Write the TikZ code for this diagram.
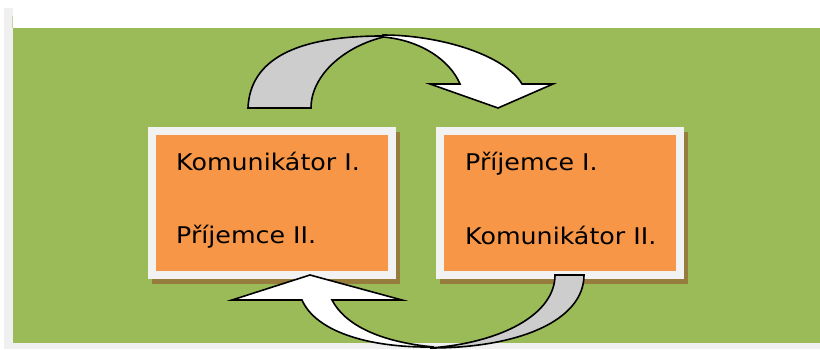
\documentclass[tikz,border=0pt]{standalone}
\usepackage{fontspec}
\newfontfamily\panelfont{DejaVu Sans}[FakeStretch=1.1]
\definecolor{bggreen}{RGB}{155,187,89}
\definecolor{panelorange}{RGB}{247,150,70}
\definecolor{framegray}{RGB}{242,242,242}
\definecolor{stripgray}{RGB}{240,240,240}
\definecolor{shadowbrown}{RGB}{150,125,62}
\definecolor{arrowgray}{RGB}{205,205,205}
\tikzset{
  panel/.style={rectangle,fill=panelorange,draw=framegray,line width=8pt,minimum width=240pt,minimum height=144pt,inner sep=0pt,
    preaction={draw=shadowbrown,fill=shadowbrown,transform canvas={xshift=4pt,yshift=-5pt}}},
  txt/.style={anchor=base west,inner sep=0pt,font=\panelfont\fontsize{23}{28}\selectfont},
  backpart/.style={fill=arrowgray,draw=black,line width=1.6pt,line join=miter},
  frontpart/.style={fill=white,draw=black,line width=1.6pt,line join=miter}
}

\begin{document}
\begin{tikzpicture}[x=1pt,y=-1pt]
  \useasboundingbox (0,0) rectangle (820,349);
  % Page and background
  \fill[white] (0,0) rectangle (820,349);
  \fill[stripgray] (4,8) rectangle (12.5,349);
  \fill[stripgray] (12.5,343) rectangle (820,349);
  \draw[bggreen!60!white, line width=0.8pt] (12.3,16) -- (12.3,28);
  \fill[bggreen] (12.5,28) rectangle (820,343);

  % Panels
  \node[panel] (boxL) at (272,203) {};
  \node[panel] (boxR) at (560,203) {};
  \node[txt] (komL) at (176,170) {Komunikátor I.};
  \node[txt] (priL) at (176,243) {Příjemce II.};
  \node[txt] (priR) at (465,170) {Příjemce I.};
  \node[txt] (komR) at (465,244) {Komunikátor II.};

  % Upper arrow
  \draw[backpart] (248,108) .. controls (250,60) and (295,35) .. (388,36)
    .. controls (345,45) and (311,75) .. (311,108) -- cycle;
  \draw[frontpart] (383,35) .. controls (440,35) and (505,55) .. (522,84) -- (553,84) -- (498,108)
    -- (430,84) -- (460,84) .. controls (450,60) and (420,40) .. (383,37) -- cycle;

  % Lower arrow
  \draw[backpart] (555,275) -- (584,275) .. controls (584,320) and (520,348) .. (430,348)
    .. controls (500,343) and (555,315) .. (555,275) -- cycle;
  \draw[frontpart] (302,300) .. controls (315,330) and (365,348) .. (434,347)
    .. controls (380,342) and (345,325) .. (332,300) -- (402,300) -- (310,275) -- (232,300) -- cycle;
\end{tikzpicture}
\end{document}
